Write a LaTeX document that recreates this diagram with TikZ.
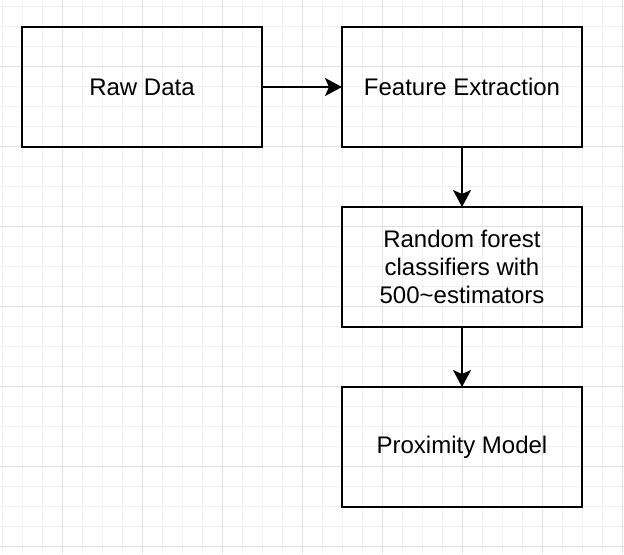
\documentclass[tikz,border=0pt]{standalone}
\usepackage{fontspec}
\setmainfont{Liberation Sans}
\usetikzlibrary{arrows.meta,bending,chains,positioning}

\definecolor{gridminor}{HTML}{F1F1F1}
\definecolor{gridmajor}{HTML}{E0E0E0}

\begin{document}
\begin{tikzpicture}[x=0.75pt,y=-0.75pt,
    box/.style={draw,line width=1.5pt,minimum width=180pt,minimum height=90pt,
        outer sep=0pt,inner sep=4pt,align=center,font=\fontsize{18}{21}\selectfont},
    arj/.style={line width=1.5pt,-{Stealth[length=12.75pt,width=13.5pt,inset=3pt]}},
    node distance=45pt and 60pt]
\useasboundingbox (0,0) rectangle (624,554);
\fill[white] (0,0) rectangle (624,554);
% grid
\foreach \x in {2,22,...,622} \draw[gridminor,line width=0.75pt] (\x,0) -- (\x,554);
\foreach \y in {6,26,...,546} \draw[gridminor,line width=0.75pt] (0,\y) -- (624,\y);
\foreach \x in {62,142,...,622} \draw[gridmajor,line width=0.75pt] (\x,0) -- (\x,554);
\foreach \y in {66,146,...,546} \draw[gridmajor,line width=0.75pt] (0,\y) -- (624,\y);

\path[start chain=P going right,nodes={box,on chain,join=by arj}]
    (142,87) node{Raw Data}
    node{Feature Extraction};
\path[continue chain=P going below,nodes={box,on chain,join=by arj}]
    node{Random forest\\classifiers with\\500\textasciitilde estimators}
    node{Proximity Model};
\end{tikzpicture}
\end{document}
